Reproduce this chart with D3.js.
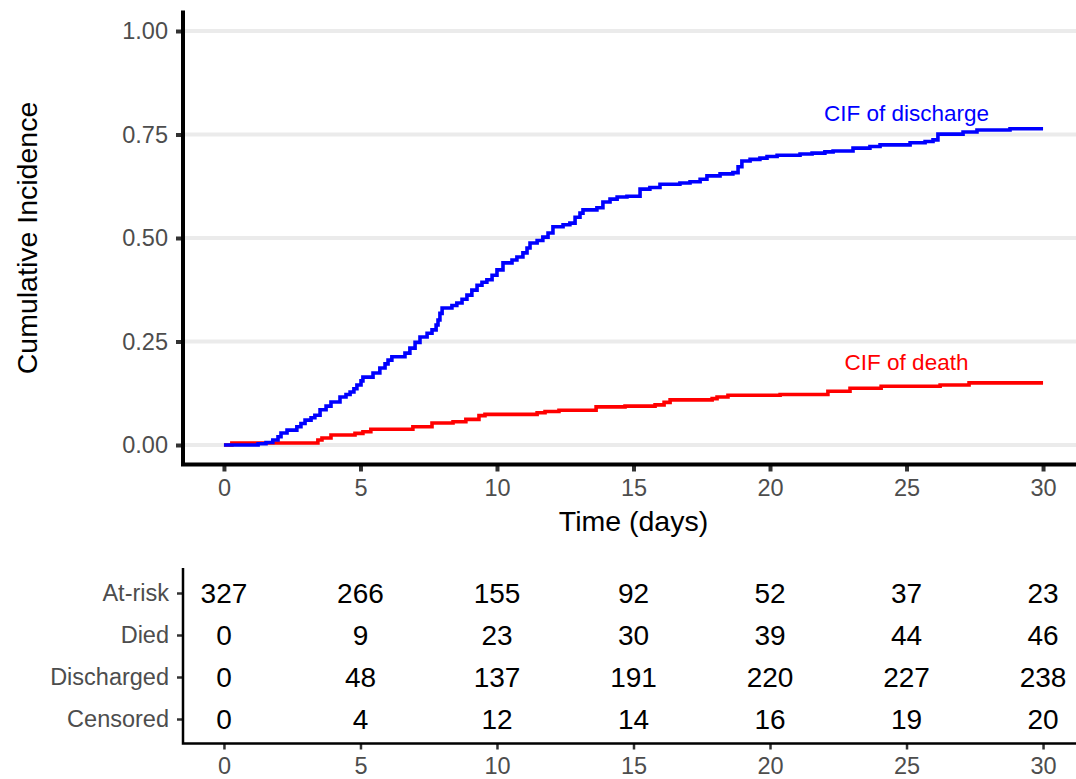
<!DOCTYPE html>
<html>
<head>
<meta charset="utf-8">
<script src="https://cdn.jsdelivr.net/npm/d3@7"></script>
<style>
    body { margin: 0; background: #fff; }
    svg { display: block; font-family: 'Liberation Sans', Arial, sans-serif; }
    .axis text { fill: #4D4D4D; font-size: 23.5px; }
    .axis .domain { display: none; }
    .axis .tick line { stroke: #333333; }
</style>
</head>
<body>
<div id="chart"></div>
<script>
//Datos: curvas de incidencia acumulada (tiempo en días, valor)
const dischargeTime = [0, 1.25, 1.54, 1.79, 1.98, 2.09, 2.31, 2.67, 2.82, 2.97, 3.19, 3.33, 3.52, 3.74, 3.92, 4.25, 4.47, 4.62, 4.76, 4.87,
    5.02, 5.09, 5.46, 5.71, 5.90, 6.01, 6.15, 6.63, 6.81, 7.00, 7.18, 7.44, 7.62, 7.77, 7.84, 7.91, 7.99, 8.35, 8.53, 8.72,
    8.90, 9.08, 9.27, 9.45, 9.63, 9.82, 10.00, 10.22, 10.55, 10.73, 10.95, 11.10, 11.21, 11.47, 11.68, 11.87, 12.05, 12.42, 12.67, 12.86,
    13.04, 13.15, 13.66, 13.88, 14.14, 14.40, 14.76, 15.24, 15.60, 15.97, 16.70, 17.07, 17.44, 17.69, 18.17, 18.64, 18.83, 18.97, 19.27, 19.63,
    19.89, 20.26, 21.10, 21.54, 22.01, 22.31, 23.04, 23.66, 24.03, 25.13, 25.68, 25.97, 26.15, 27.07, 27.58, 28.79, 30.00];
const dischargeCif = [0, 0.003, 0.006, 0.012, 0.020, 0.029, 0.036, 0.044, 0.052, 0.060, 0.066, 0.072, 0.085, 0.094, 0.104, 0.116, 0.122, 0.128, 0.136, 0.145,
    0.155, 0.164, 0.174, 0.186, 0.196, 0.205, 0.213, 0.222, 0.234, 0.248, 0.261, 0.270, 0.278, 0.290, 0.302, 0.318, 0.331, 0.337, 0.343, 0.352,
    0.362, 0.374, 0.386, 0.393, 0.399, 0.410, 0.423, 0.440, 0.447, 0.454, 0.464, 0.476, 0.488, 0.494, 0.502, 0.512, 0.527, 0.532, 0.536, 0.550,
    0.560, 0.568, 0.573, 0.587, 0.594, 0.599, 0.601, 0.618, 0.622, 0.630, 0.633, 0.636, 0.642, 0.650, 0.655, 0.658, 0.672, 0.686, 0.690, 0.693,
    0.697, 0.700, 0.703, 0.705, 0.708, 0.710, 0.717, 0.721, 0.725, 0.730, 0.733, 0.737, 0.751, 0.756, 0.761, 0.764, 0.764];

const deathTime = [0, 0.29, 3.44, 3.59, 3.92, 4.80, 5.09, 5.38, 6.92, 7.62, 8.39, 8.86, 9.34, 9.56, 11.47, 11.76, 12.27, 13.63, 14.69, 15.79,
    16.12, 16.34, 17.88, 18.06, 18.46, 20.37, 22.12, 22.93, 24.07, 26.23, 27.29, 30.00];
const deathCif = [0, 0.005, 0.012, 0.017, 0.024, 0.028, 0.032, 0.038, 0.044, 0.053, 0.056, 0.062, 0.071, 0.074, 0.078, 0.081, 0.084, 0.092, 0.094, 0.097,
    0.103, 0.109, 0.112, 0.116, 0.120, 0.122, 0.130, 0.137, 0.142, 0.145, 0.150, 0.150];

//Tabla de riesgo
const tableTimes = [0, 5, 10, 15, 20, 25, 30];
const rowLabels = ['At-risk', 'Died', 'Discharged', 'Censored'];
const atRisk = [327, 266, 155, 92, 52, 37, 23];
const died = [0, 9, 23, 30, 39, 44, 46];
const discharged = [0, 48, 137, 191, 220, 227, 238];
const censored = [0, 4, 12, 14, 16, 19, 20];

const yTicks = [0, 0.25, 0.5, 0.75, 1];

//Colores
const COLOR_DISCHARGE = '#0000FF',
COLOR_DEATH = '#FF0000',
COLOR_GRID = '#EBEBEB';

let width = 1076, height = 779;

let svg = d3.select('#chart')
    .append('svg')
    .attr('width', width)
    .attr('height', height);

//Escalas
let x = d3.scaleLinear()
    .domain([-1.5, 31.5])
    .range([183, 1084]);

let y = d3.scaleLinear()
    .domain([-0.05, 1.05])
    .range([465.7, 10.3]);

//Rejilla horizontal
svg.append('g')
    .selectAll('line')
    .data(yTicks)
    .enter()
    .append('line')
    .attr('x1', x(-1.5))
    .attr('x2', x(31.5))
    .attr('y1', d => y(d))
    .attr('y2', d => y(d))
    .attr('stroke', COLOR_GRID)
    .attr('stroke-width', 4);

//Ejes
svg.append('g')
    .attr('class', 'axis')
    .attr('transform', 'translate(183,0)')
    .call(d3.axisLeft(y).tickValues(yTicks).tickFormat(d3.format('.2f')).tickSize(7).tickPadding(8))
    .call(g => g.selectAll('.tick line').attr('stroke-width', 4));

svg.append('g')
    .attr('class', 'axis')
    .attr('transform', 'translate(0,464.5)')
    .call(d3.axisBottom(x).tickValues(tableTimes).tickSize(7).tickPadding(8))
    .call(g => g.selectAll('.tick line').attr('stroke-width', 4));

svg.append('path')
    .attr('d', `M183,10.5V464.5H1084`)
    .attr('fill', 'none')
    .attr('stroke', '#000')
    .attr('stroke-width', 4);

//Curvas
let line = d3.line()
    .x(d => x(d[0]))
    .y(d => y(d[1]))
    .curve(d3.curveStepAfter);

svg.append('path')
    .datum(deathTime.map((t, i) => [t, deathCif[i]]))
    .attr('d', line)
    .attr('fill', 'none')
    .attr('stroke', COLOR_DEATH)
    .attr('stroke-width', 3.6);

svg.append('path')
    .datum(dischargeTime.map((t, i) => [t, dischargeCif[i]]))
    .attr('d', line)
    .attr('fill', 'none')
    .attr('stroke', COLOR_DISCHARGE)
    .attr('stroke-width', 3.6);

//Etiquetas de las curvas
svg.append('text')
    .attr('x', x(25))
    .attr('y', y(0.782))
    .attr('text-anchor', 'middle')
    .attr('fill', COLOR_DISCHARGE)
    .style('font-size', '22.5px')
    .text('CIF of discharge');

svg.append('text')
    .attr('x', x(25))
    .attr('y', y(0.18))
    .attr('text-anchor', 'middle')
    .attr('fill', COLOR_DEATH)
    .style('font-size', '22.5px')
    .text('CIF of death');

//Títulos de ejes
svg.append('text')
    .attr('x', x(15))
    .attr('y', 531)
    .attr('text-anchor', 'middle')
    .style('font-size', '28.5px')
    .text('Time (days)');

svg.append('text')
    .attr('transform', `translate(37,${y(0.5)}) rotate(-90)`)
    .attr('text-anchor', 'middle')
    .style('font-size', '28.5px')
    .text('Cumulative Incidence');

//Tabla
let yT = d3.scalePoint()
    .domain(rowLabels)
    .range([593, 719]);

svg.append('g')
    .attr('class', 'axis')
    .attr('transform', 'translate(183,0)')
    .call(d3.axisLeft(yT).tickSize(6).tickPadding(8))
    .call(g => g.selectAll('.tick line').attr('stroke-width', 2.5));

svg.append('g')
    .attr('class', 'axis')
    .attr('transform', 'translate(0,743.5)')
    .call(d3.axisBottom(x).tickValues(tableTimes).tickSize(6).tickPadding(8))
    .call(g => g.selectAll('.tick line').attr('stroke-width', 2.5));

svg.append('path')
    .attr('d', `M183,568V743.5H1084`)
    .attr('fill', 'none')
    .attr('stroke', '#000')
    .attr('stroke-width', 2.5);

let tableRows = [atRisk, died, discharged, censored];

svg.append('g')
    .selectAll('g')
    .data(tableRows)
    .enter()
    .append('g')
    .each(function(row, r) {
        d3.select(this).selectAll('text')
            .data(row)
            .enter()
            .append('text')
            .attr('x', (d, i) => x(tableTimes[i]))
            .attr('y', yT(rowLabels[r]))
            .attr('dy', '0.35em')
            .attr('text-anchor', 'middle')
            .style('font-size', '28px')
            .attr('fill', '#000')
            .text(d => d);
    });
</script>
</body>
</html>
